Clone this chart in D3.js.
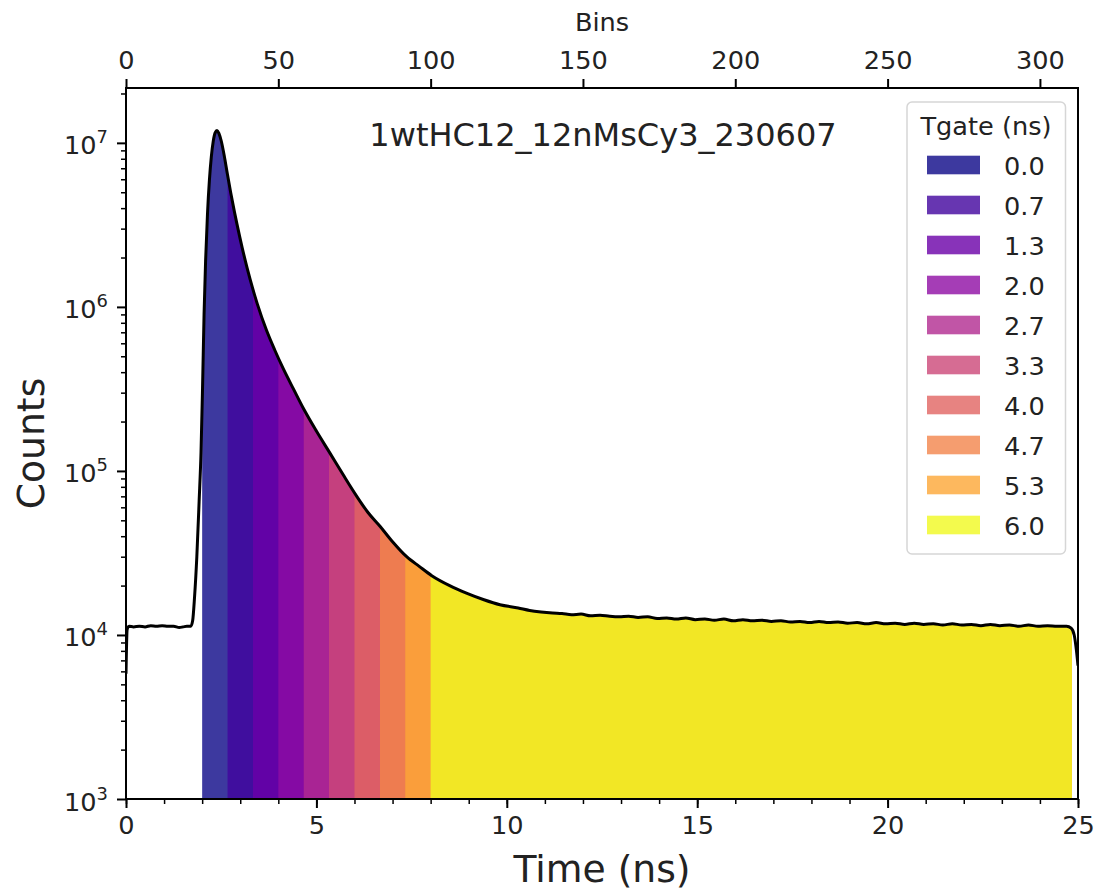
<!DOCTYPE html>
<html>
<head>
<meta charset="utf-8">
<script src="https://cdn.jsdelivr.net/npm/d3@7"></script>
<style>
  html, body { margin: 0; padding: 0; background: #ffffff; }
  svg { display: block; font-family: "DejaVu Sans", sans-serif; }
</style>
</head>
<body>
<svg id="chart" width="1100" height="892"></svg>
<script>
// ---------------- data ----------------
const timeNs = [0.00,0.03,0.08,0.20,0.35,0.50,0.65,0.80,0.95,1.10,1.25,1.40,1.50,1.60,1.70,1.75,1.80,1.86,1.92,1.97,
  2.01,2.05,2.09,2.14,2.19,2.24,2.29,2.34,2.39,2.44,2.50,2.58,2.66,2.75,2.85,2.91,3.05,3.18,3.26,3.45,
  3.69,3.90,4.13,4.40,4.66,5.00,5.36,5.70,6.06,6.35,6.67,7.00,7.37,7.70,8.03,8.50,8.94,9.40,9.82,10.30,
  10.60,10.90,11.20,11.45,11.70,11.95,12.20,12.45,12.70,12.95,13.20,13.45,13.70,13.95,14.20,14.45,14.70,14.95,15.20,15.45,
  15.70,15.95,16.20,16.45,16.70,16.95,17.20,17.45,17.70,17.95,18.20,18.45,18.70,18.95,19.20,19.45,19.70,19.95,20.20,20.45,
  20.70,20.95,21.20,21.45,21.70,21.95,22.20,22.45,22.70,22.95,23.20,23.45,23.70,23.95,24.20,24.45,24.70,24.82,24.90,24.96,25.00];
const counts = [5.8e3,1.08e4,1.13e4,1.12e4,1.13e4,1.12e4,1.14e4,1.13e4,1.14e4,1.13e4,1.13e4,1.11e4,1.12e4,1.13e4,1.13e4,1.22e4,1.7e4,3.0e4,6.5e4,1.3e5,
  3.2e5,9.0e5,1.9e6,3.7e6,5.9e6,8.2e6,1.02e7,1.15e7,1.19e7,1.144e7,1.03e7,8.35e6,6.5e6,4.97e6,3.77e6,3.23e6,2.30e6,1.73e6,1.47e6,1.04e6,
  7.2e5,5.5e5,4.2e5,3.15e5,2.4e5,1.75e5,1.28e5,9.5e4,7.0e4,5.6e4,4.6e4,3.7e4,3.0e4,2.62e4,2.3e4,2.0e4,1.80e4,1.64e4,1.53e4,1.46e4,
  1.41e4,1.38e4,1.36e4,1.35e4,1.33e4,1.34e4,1.31e4,1.32e4,1.30e4,1.29e4,1.30e4,1.28e4,1.29e4,1.26e4,1.27e4,1.25e4,1.27e4,1.24e4,1.25e4,1.23e4,
  1.25e4,1.22e4,1.24e4,1.22e4,1.23e4,1.21e4,1.22e4,1.20e4,1.21e4,1.19e4,1.21e4,1.19e4,1.20e4,1.18e4,1.19e4,1.17e4,1.19e4,1.17e4,1.18e4,1.16e4,
  1.18e4,1.16e4,1.17e4,1.15e4,1.17e4,1.15e4,1.16e4,1.14e4,1.16e4,1.14e4,1.15e4,1.13e4,1.15e4,1.13e4,1.14e4,1.13e4,1.13e4,1.10e4,1.0e4,8.0e3,6.5e3];

const tgate = [0.0,0.667,1.333,2.0,2.667,3.333,4.0,4.667,5.333,6.0];   // ns after gate origin
const gateOrigin = 2.0;      // ns
const fillEnd = 24.84;       // ns
const gateColors = ["#0d0887","#41049d","#6a00a8","#8f0da4","#b12a90","#cc4778","#e16462","#f2844b","#fca636","#f0f921"];

const timeTicks = [0,5,10,15,20,25];
const timeMinorTicks = d3.range(0,26,1);
const binTicks = [0,50,100,150,200,250,300];
const binMax = 312.5;
const countTicks = [1e3,1e4,1e5,1e6,1e7];
const countMax = 2.16e7;

const titleText = "1wtHC12_12nMsCy3_230607";
const legendTitle = "Tgate (ns)";

// ---------------- layout ----------------
const L = 126, R = 1078, T = 88, B = 799;
const svg = d3.select("#chart");
const x = d3.scaleLinear().domain([0,25]).range([L,R]);
const xBin = d3.scaleLinear().domain([0,binMax]).range([L,R]);
const y = d3.scaleLog().domain([1e3,countMax]).range([B,T]);

const data = timeNs.map((t,i)=>({t, c: counts[i]}));
const tickFont = 25.6;

// fills
const defs = svg.append("defs");
const area = d3.area().x(d=>x(d.t)).y0(B).y1(d=>y(d.c)).curve(d3.curveMonotoneX);
tgate.forEach((g,i)=>{
  const x0 = x(gateOrigin + g), x1 = x(fillEnd);
  defs.append("clipPath").attr("id","gclip"+i)
    .append("rect").attr("x",x0).attr("y",T).attr("width",x1-x0).attr("height",B-T);
  svg.append("path").datum(data).attr("d",area)
    .attr("fill",gateColors[i]).attr("fill-opacity",0.8)
    .attr("clip-path","url(#gclip"+i+")");
});

// curve
const line = d3.line().x(d=>x(d.t)).y(d=>y(d.c)).curve(d3.curveMonotoneX);
defs.append("clipPath").attr("id","plotclip").append("rect").attr("x",L).attr("y",T).attr("width",R-L).attr("height",B-T);
svg.append("path").datum(data).attr("d",line).attr("fill","none").attr("stroke","#000")
  .attr("stroke-width",3).attr("stroke-linejoin","round").attr("clip-path","url(#plotclip)");

// axes
function styleAxis(g){
  g.select(".domain").remove();
  g.selectAll(".tick line").attr("stroke","#000").attr("stroke-width",2);
  g.selectAll(".tick text").attr("fill","#222").attr("font-size",tickFont).attr("font-family","DejaVu Sans");
}
svg.append("g").attr("transform",`translate(0,${B})`)
  .call(d3.axisBottom(x).tickValues(timeMinorTicks).tickSize(5).tickFormat(""))
  .call(g=>{g.select(".domain").remove(); g.selectAll(".tick line").attr("stroke","#000").attr("stroke-width",1.5);});
svg.append("g").attr("transform",`translate(0,${B})`)
  .call(d3.axisBottom(x).tickValues(timeTicks).tickSize(9).tickPadding(8).tickFormat(d3.format("d")))
  .call(styleAxis);
svg.append("g").attr("transform",`translate(0,${T})`)
  .call(d3.axisTop(xBin).tickValues(binTicks).tickSize(9).tickPadding(10).tickFormat(d3.format("d")))
  .call(styleAxis);
const minorCounts = [];
countTicks.forEach(dec=>{ for(let k=2;k<=9;k++){ if(dec*k<=countMax) minorCounts.push(dec*k);} });
svg.append("g").attr("transform",`translate(${L},0)`)
  .call(d3.axisLeft(y).tickValues(minorCounts).tickSize(5).tickFormat(""))
  .call(g=>{g.select(".domain").remove(); g.selectAll(".tick line").attr("stroke","#000").attr("stroke-width",1.5);});
const yAx = svg.append("g").attr("transform",`translate(${L},0)`)
  .call(d3.axisLeft(y).tickValues(countTicks).tickSize(9).tickFormat(""))
  .call(styleAxis);
yAx.selectAll(".tick").each(function(d){
  const t = d3.select(this).append("text").attr("x",-18).attr("y",11)
    .attr("text-anchor","end").attr("fill","#222").attr("font-size",tickFont).attr("font-family","DejaVu Sans");
  t.append("tspan").text("10");
  t.append("tspan").attr("dy",-11).attr("font-size",tickFont*0.7).text(String(Math.round(Math.log10(d))));
});

// spines
svg.append("rect").attr("x",L).attr("y",T).attr("width",R-L).attr("height",B-T)
  .attr("fill","none").attr("stroke","#000").attr("stroke-width",2);

// labels
svg.append("text").attr("x",(L+R)/2).attr("y",882).attr("text-anchor","middle")
  .attr("font-size",37.7).attr("fill","#222").text("Time (ns)");
svg.append("text").attr("transform",`translate(44,${(T+B)/2}) rotate(-90)`).attr("text-anchor","middle")
  .attr("font-size",37.7).attr("fill","#222").text("Counts");
svg.append("text").attr("x",(L+R)/2).attr("y",31).attr("text-anchor","middle")
  .attr("font-size",tickFont).attr("fill","#222").text("Bins");
svg.append("text").attr("x",603).attr("y",146).attr("text-anchor","middle")
  .attr("font-size",32).attr("fill","#222").text(titleText);

// legend
const lg = svg.append("g");
lg.append("rect").attr("x",907).attr("y",102).attr("width",158.5).attr("height",452).attr("rx",5)
  .attr("fill","#fff").attr("fill-opacity",0.8).attr("stroke","#d6d6d6").attr("stroke-width",1.5);
lg.append("text").attr("x",986).attr("y",134.5).attr("text-anchor","middle")
  .attr("font-size",tickFont).attr("fill","#222").text(legendTitle);
tgate.forEach((g,i)=>{
  lg.append("rect").attr("x",927).attr("y",155.7+40*i).attr("width",53).attr("height",18.6)
    .attr("fill",gateColors[i]).attr("fill-opacity",0.8);
  lg.append("text").attr("x",1004).attr("y",175+40*i).attr("font-size",tickFont).attr("fill","#222")
    .text(g.toFixed(1));
});
</script>
</body>
</html>
